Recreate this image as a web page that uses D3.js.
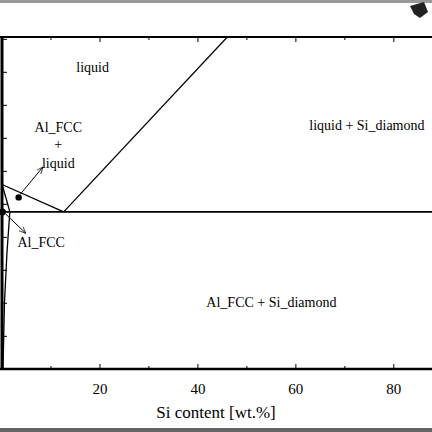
<!DOCTYPE html>
<html><head><meta charset="utf-8">
<script src="https://cdn.jsdelivr.net/npm/d3@7"></script>
<style>body{margin:0;background:#fff}svg{display:block;font-family:"Liberation Serif",serif}</style>
</head><body><svg id="c" width="432" height="432"></svg>
<script>
// phase boundaries (Si wt.%, T °C)
const liquidusSi = [[12.6, 577], [46, 1107]];
const liquidusAl = [[0, 660], [12.6, 577]];
const solidus = [[0, 660], [0.8, 620], [1.6, 577]];
const solvus = [[1.6, 577], [1.0, 450], [0.5, 300], [0.2, 100]];
const eutectic = [[0, 577], [100, 577]];
const xMajor = [20, 40, 60, 80];
const xMinor = [10, 30, 50, 70, 90];
const yTicks = [200, 300, 400, 500, 600, 700, 800, 900, 1000, 1100];
const labels = [
  { t: 'liquid', x: 18.5, y: 1000 },
  { t: 'Al_FCC', x: 11.5, y: 820 },
  { t: '+', x: 11.5, y: 768 },
  { t: 'liquid', x: 11.5, y: 710 },
  { t: 'liquid + Si_diamond', x: 74.5, y: 825 },
  { t: 'Al_FCC', x: 8, y: 471 },
  { t: 'Al_FCC + Si_diamond', x: 55, y: 289 }
];

const svg = d3.select('#c');
const x = d3.scaleLinear().domain([0, 88]).range([2, 433]);
const y = d3.scaleLinear().domain([101, 1107]).range([369, 37]);
const line = d3.line().x(d => x(d[0])).y(d => y(d[1]));

svg.append('rect').attr('width', 432).attr('height', 3).attr('fill', '#999');
svg.append('rect').attr('y', 428).attr('width', 432).attr('height', 4).attr('fill', '#666');
svg.append('path').attr('d', 'M410,6 L424,2 L428,12 L420,18 L414,14 Z').attr('fill', '#222');

svg.append('clipPath').attr('id', 'pc').append('rect')
  .attr('x', 0).attr('y', 37).attr('width', 432).attr('height', 332);
const g = svg.append('g').attr('clip-path', 'url(#pc)');
[liquidusSi, liquidusAl, solidus, solvus].forEach(d =>
  g.append('path').datum(d).attr('d', line).attr('fill', 'none').attr('stroke', '#000').attr('stroke-width', 1.3));
g.append('path').datum(eutectic).attr('d', line).attr('stroke', '#000').attr('stroke-width', 1.6);

// frame
svg.append('line').attr('x1', 0).attr('x2', 432).attr('y1', 37).attr('y2', 37).attr('stroke', '#000').attr('stroke-width', 2);
svg.append('line').attr('x1', 0).attr('x2', 432).attr('y1', 369).attr('y2', 369).attr('stroke', '#000').attr('stroke-width', 2.5);
svg.append('line').attr('x1', 2).attr('x2', 2).attr('y1', 37).attr('y2', 369).attr('stroke', '#000').attr('stroke-width', 3);

const ax = svg.append('g').attr('transform', 'translate(0,369)');
ax.selectAll('.mj').data(xMajor).join('line').attr('class', 'mj').attr('x1', d => x(d)).attr('x2', d => x(d)).attr('y1', 0).attr('y2', -5).attr('stroke', '#000');
ax.selectAll('.mn').data(xMinor).join('line').attr('class', 'mn').attr('x1', d => x(d)).attr('x2', d => x(d)).attr('y1', 0).attr('y2', -3).attr('stroke', '#000');
ax.selectAll('text').data(xMajor).join('text').attr('x', d => x(d)).attr('y', 25).attr('text-anchor', 'middle').attr('font-size', 15).text(d => d);
const topAx = svg.append('g').attr('transform', 'translate(0,37)');
topAx.selectAll('line').data(xMajor.concat(xMinor)).join('line').attr('x1', d => x(d)).attr('x2', d => x(d)).attr('y1', 0).attr('y2', d => d % 20 ? 3 : 5).attr('stroke', '#000');
svg.selectAll('.yt').data(yTicks).join('line').attr('class', 'yt').attr('x1', 2).attr('x2', 7).attr('y1', d => y(d)).attr('y2', d => y(d)).attr('stroke', '#000');

svg.append('text').attr('x', 216).attr('y', 418).attr('text-anchor', 'middle').attr('font-size', 17).text('Si content [wt.%]');

svg.selectAll('.lb').data(labels).join('text').attr('class', 'lb').attr('x', d => x(d.x)).attr('y', d => y(d.y)).attr('text-anchor', 'middle').attr('font-size', 14).text(d => d.t);

// arrows
svg.append('defs').append('marker').attr('id', 'ah').attr('viewBox', '0 0 10 10').attr('refX', 9).attr('refY', 5)
  .attr('markerWidth', 7).attr('markerHeight', 7).attr('orient', 'auto')
  .append('path').attr('d', 'M0,1 L10,5 L0,9').attr('fill', 'none').attr('stroke', '#000');
svg.append('line').attr('x1', x(3.7)).attr('y1', y(630)).attr('x2', x(8.3)).attr('y2', y(712)).attr('stroke', '#000').attr('marker-end', 'url(#ah)');
svg.append('circle').attr('cx', x(3.4)).attr('cy', y(621)).attr('r', 3.2);
svg.append('line').attr('x1', x(0.8)).attr('y1', y(570)).attr('x2', x(4.8)).attr('y2', y(513)).attr('stroke', '#000').attr('marker-end', 'url(#ah)');
svg.append('circle').attr('cx', x(0.1)).attr('cy', y(577)).attr('r', 3.5);
</script></body></html>
